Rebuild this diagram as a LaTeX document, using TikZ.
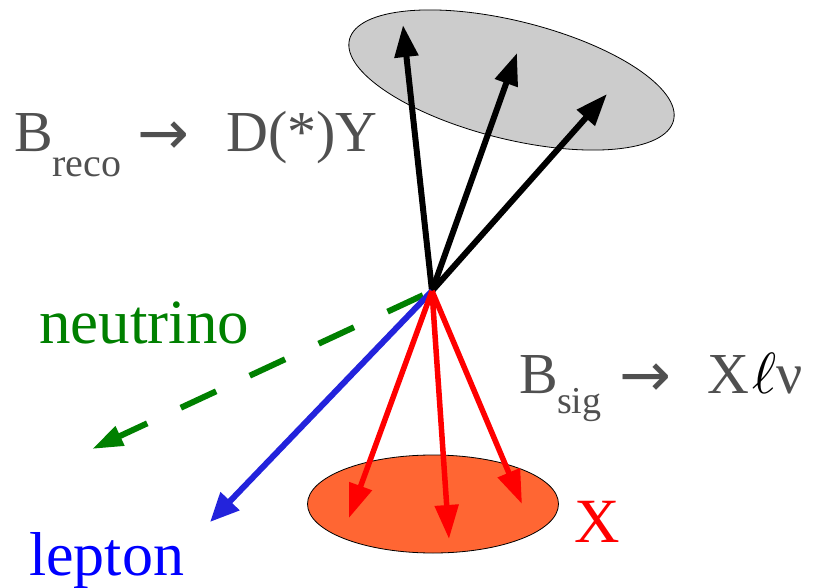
\documentclass[tikz,border=0pt]{standalone}
\usepackage{fontspec}
\setmainfont{Liberation Serif}
\newfontfamily\arrowfont{DejaVu Sans}
\usetikzlibrary{arrows.meta}
\definecolor{txtgray}{RGB}{80,80,80}
\definecolor{ellgray}{RGB}{204,204,204}
\definecolor{xorange}{RGB}{255,102,51}
\definecolor{lepblue}{RGB}{35,35,220}
\definecolor{nugreen}{RGB}{0,128,0}
\begin{document}
\begin{tikzpicture}[x=1pt,y=1pt,
  txt/.style={inner sep=0pt, anchor=base west},
  big/.style={font=\fontsize{58}{58}\selectfont},
  arr/.style={inner sep=0pt, anchor=base west, text=txtgray, font=\arrowfont\fontsize{62}{62}\selectfont},
  blkarr/.style={draw=black, line width=6pt, -{Triangle[length=32pt,width=23pt]}},
  redarr/.style={draw=red, line width=5.5pt, -{Triangle[length=34pt,width=23pt]}},
  leparr/.style={draw=lepblue, line width=6pt, -{Triangle[length=29pt,width=25pt]}},
  nuarr/.style={draw=nugreen, line width=6pt, dash pattern=on 39pt off 37pt, dash phase=66pt, -{Triangle[length=31pt,width=20pt]}},
  blob/.style={draw=black, line width=0.8pt}]
\useasboundingbox (0,0) rectangle (814,-588);
% blobs
\draw[blob, fill=ellgray] (511.5,-80) ellipse [x radius=167pt, y radius=59pt, rotate=-14];
\draw[blob, fill=xorange] (433,-504) ellipse [x radius=125.5pt, y radius=49pt];
% coordinates
\coordinate (v) at (432,-291);
\coordinate (k1) at (403,-25);
\coordinate (k2) at (517,-53);
\coordinate (k3) at (607,-94);
\coordinate (r1) at (349,-518);
\coordinate (r2) at (449,-539);
\coordinate (r3) at (522,-504);
\coordinate (nu) at (92,-449);
\coordinate (lp) at (210,-522);
% arrows
\draw[blkarr] (v) -- (k1);
\draw[blkarr] (v) -- (k2);
\draw[blkarr] (v) -- (k3);
\draw[nuarr] (v) -- (nu);
\draw[leparr] (v) -- (lp);
\draw[redarr] (v) -- (r1);
\draw[redarr] (v) -- (r2);
\draw[redarr] (v) -- (r3);
% B_reco label
\node[txt, big, text=txtgray] (b1) at (14,-152) {B};
\node[txt, text=txtgray, font=\fontsize{40}{40}\selectfont] (b1s) at (52,-177) {reco};
\node[arr] (a1) at (137,-155) {→};
\node[txt, big, text=txtgray] (d1) at (226,-152) {D(*)Y};
% B_sig label
\node[txt, big, text=txtgray] (b2) at (519,-393) {B};
\node[txt, text=txtgray, font=\fontsize{38}{38}\selectfont] (b2s) at (557,-413) {sig};
\node[arr] (a2) at (619,-396) {→};
\node[txt, big, text=txtgray] (x2) at (707,-393) {X};
\node[txt, text=black] (ell) at (752,-393) {\scalebox{5.8}{$\ell$}};
\node[txt, big, text=txtgray] (nu2) at (776,-393) {ν};
% particle labels
\node[txt, text=nugreen, font=\fontsize{63}{63}\selectfont] (nulab) at (39,-343) {neutrino};
\node[txt, text=blue, font=\fontsize{62}{62}\selectfont] (leplab) at (29,-575) {lepton};
\node[txt, text=red, font=\fontsize{63}{63}\selectfont] (xlab) at (574,-542) {X};
\end{tikzpicture}
\end{document}
